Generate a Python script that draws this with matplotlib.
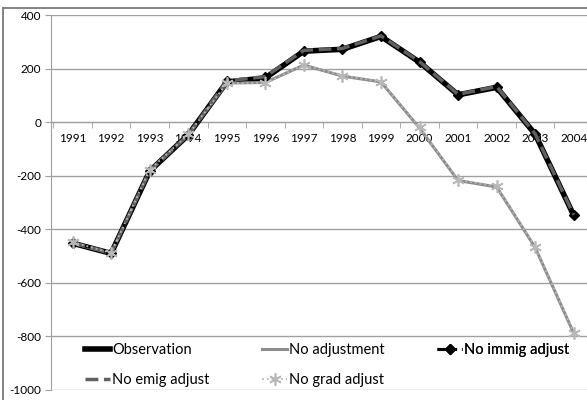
import matplotlib
matplotlib.use("Agg")
import matplotlib.pyplot as plt

years = ["1991", "1992", "1993", "1994", "1995", "1996", "1997",
         "1998", "1999", "2000", "2001", "2002", "2003", "2004"]
observation = [-452, -490, -183, -48, 150, 165, 265, 272, 320, 224, 102, 130, -45, -348]
no_adjustment = [-452, -490, -180, -48, 146, 148, 213, 172, 150, -22, -218, -242, -468, -788]
no_immig = [-450, -488, -183, -48, 152, 168, 267, 274, 321, 226, 103, 132, -44, -346]
no_emig = [-450, -488, -183, -48, 154, 170, 268, 275, 322, 226, 104, 133, -44, -346]
no_grad = [-448, -488, -178, -46, 146, 146, 214, 173, 151, -20, -216, -240, -466, -786]
yticks = [400, 200, 0, -200, -400, -600, -800, -1000]

plt.rcParams['font.family'] = ['Lato', 'DejaVu Sans']

W, H = 587, 400
fig = plt.figure(figsize=(W / 100, H / 100), dpi=100)

# chart outer border (top and left edges) via a background frame axes
bg = fig.add_axes([3 / W, -0.05, 1.0, 1.05 - 8 / H])
bg.set_xticks([])
bg.set_yticks([])
bg.patch.set_alpha(0)
for s in ['right', 'bottom']:
    bg.spines[s].set_visible(False)
for s in ['top', 'left']:
    bg.spines[s].set_color('#7a7a7a')
    bg.spines[s].set_linewidth(1.3)
bg.set_zorder(-1)

ax = fig.add_axes([51 / W, 1 - 390 / H, (593 - 51) / W, (390 - 15) / H])
ax.patch.set_alpha(0)

x = list(range(len(years)))
h_obs, = ax.plot(x, observation, color='black', lw=4, label='Observation', zorder=3)
h_adj, = ax.plot(x, no_adjustment, color='#8c8c8c', lw=2.2, label='No adjustment', zorder=3)
h_imm, = ax.plot(x, no_immig, color='black', lw=2.2, ls='-.', marker='D', ms=5,
                 label='No immig adjust', zorder=4)
h_emi, = ax.plot(x, no_emig, color='#606060', lw=2.5, ls='--', label='No emig adjust', zorder=5)
h_grd, = ax.plot(x, no_grad, color='#b8b8b8', lw=1.3, ls=':', marker=(6, 2, 0), ms=9, mew=1.2,
                 label='No grad adjust', zorder=5)

ax.set_xlim(-0.56, 13.5)
ax.set_ylim(-1000, 400)
ax.set_yticks(yticks)
ax.set_yticklabels([str(v) for v in yticks], fontsize=8.5)
ax.yaxis.grid(True, color='#a0a0a0', lw=1)
ax.set_axisbelow(True)

for s in ['top', 'right']:
    ax.spines[s].set_visible(False)
ax.spines['left'].set_color('#a0a0a0')
ax.spines['bottom'].set_position(('data', 0))
ax.spines['bottom'].set_color('#a0a0a0')

ax.set_xticks(x)
ax.set_xticklabels(years, fontsize=8.5)
ax.set_xticks([i - 0.5 for i in range(len(years) + 1)], minor=True)
ax.tick_params(axis='x', which='major', length=0, pad=8)
ax.tick_params(axis='x', which='minor', length=4, color='#a0a0a0', direction='out')
ax.tick_params(axis='y', length=4, color='#a0a0a0', pad=3)

cols = [([h_obs, h_emi], 0.052), ([h_adj, h_grd], 0.379), ([h_imm], 0.702)]
for hs, xpos in cols:
    lg = ax.legend(handles=hs, loc='upper left', bbox_to_anchor=(xpos, 0.140), frameon=False,
                   fontsize=10.5, handlelength=1.7, handletextpad=0.15, labelspacing=1.05,
                   borderaxespad=0.0)
    ax.add_artist(lg)

fig.savefig('out.png', dpi=100)
